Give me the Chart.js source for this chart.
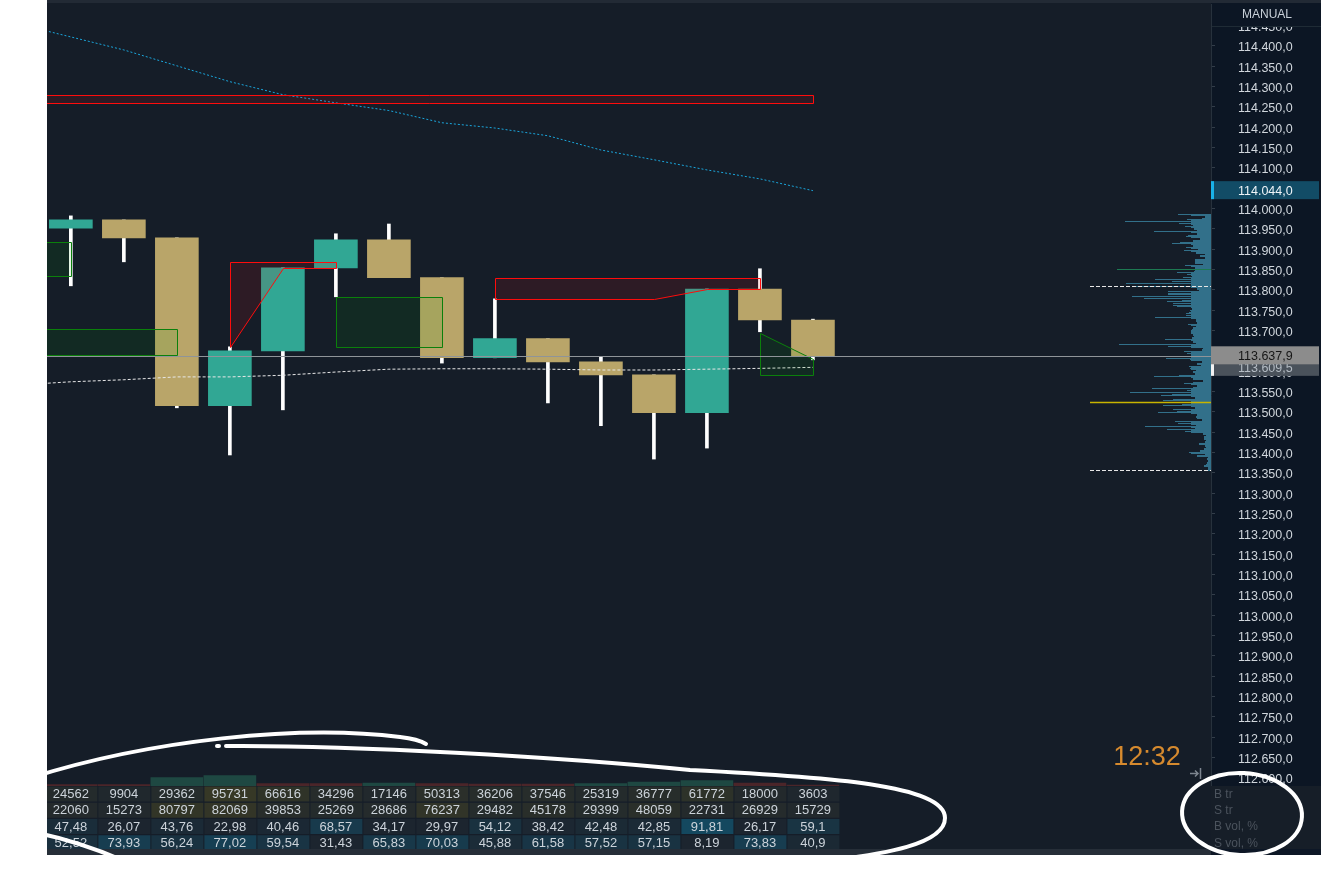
<!DOCTYPE html>
<html>
<head>
<meta charset="utf-8">
<script src="https://cdn.jsdelivr.net/npm/chart.js@4.4.1/dist/chart.umd.min.js"></script>
<style>
html, body { margin: 0; padding: 0; background: #fff; }
#wrap { width: 1321px; height: 890px; }
</style>
</head>
<body>
<div id="wrap"><canvas id="myChart" width="1321" height="890"></canvas></div>
<script>
// candles, one per column (index 0..14)
var opens  = [113952, 113972, 113928, 113515, 113650, 113854, 113923, 113830, 113633, 113680, 113623, 113591, 113498, 113802, 113726];
var highs  = [113982, 113972, 113928, 113660, 113854, 113938, 113962, 113830, 113778, 113680, 113635, 113591, 113802, 113852, 113728];
var lows   = [113810, 113869, 113510, 113394, 113505, 113783, 113830, 113620, 113633, 113522, 113466, 113384, 113411, 113697, 113628];
var closes = [113972, 113928, 113515, 113650, 113854, 113923, 113830, 113633, 113680, 113623, 113591, 113498, 113802, 113726, 113637.9];

// moving lines
var lineIdx   = [-1, 0, 1, 2, 3, 4, 5, 6, 7, 8, 9, 10, 11, 12, 13, 14];
var cyanLine  = [114454, 114422, 114390, 114351, 114312, 114280, 114260, 114241, 114211, 114198, 114179, 114144, 114120, 114095, 114073, 114044];
var whiteLine = [113566, 113574, 113579, 113586, 113586, 113590, 113598, 113605, 113606, 113606, 113605, 113603, 113603, 113605, 113607, 113609.5];

// zones: [candle index, price] vertices
var redZones = [
  [[-1, 114259], [-1, 114280], [14, 114280], [14, 114259]],
  [[3, 113660], [3, 113869], [5, 113869], [5, 113854], [4, 113854]],
  [[8, 113778], [8, 113830], [13, 113830], [13, 113802], [12, 113802], [11, 113778]]
];
var greenZones = [
  [[-1, 113834], [-1, 113918], [0, 113918], [0, 113834]],
  [[-1, 113640], [-1, 113704], [2, 113704], [2, 113640]],
  [[5, 113660], [5, 113783], [7, 113783], [7, 113660]],
  [[13, 113694], [14, 113630], [14, 113591], [13, 113591]]
];

// volume profile, top price down
var profileTop = 113984;
var profileStep = 4.2;
var profileVol = [33, 6, 9, 24, 86, 32, 18, 26, 17, 14, 57, 14, 23, 25, 11, 18, 31, 39, 18, 25,
  13, 27, 15, 6, 11, 6, 16, 16, 16, 8, 26, 16, 16, 17, 34, 24, 19, 28, 56, 39,
  85, 20, 78, 14, 12, 43, 43, 43, 79, 67, 29, 44, 38, 38, 34, 19, 21, 22, 25, 25,
  56, 15, 15, 14, 23, 15, 18, 19, 20, 20, 18, 17, 19, 46, 18, 15, 92, 43, 8, 9,
  27, 24, 20, 34, 45, 21, 9, 14, 10, 22, 21, 15, 18, 16, 32, 57, 18, 8, 18, 27,
  14, 18, 59, 24, 81, 39, 50, 16, 38, 48, 30, 29, 48, 16, 38, 34, 53, 14, 15, 14,
  9, 36, 33, 15, 66, 16, 44, 26, 8, 5, 7, 7, 5, 6, 12, 6, 5, 7, 11, 22,
  6, 14, 3, 4, 3, 4, 5, 7, 3, 3];
var pocPrice = 113524;
var vaHigh = 113809;
var vaLow = 113356;
var hvnPrice = 113851;

var lastPrice = 113637.9;
var cyanLast = 114044;
var whiteLast = 113609.5;

// footer
var deltaBars = [-1.5, -1.5, 8.5, 10.5, -2.5, -2.5, 3, -2.5, -2, -2, 2.5, 4, 5.5, -3, -1];
var bTr  = [24562, 9904, 29362, 95731, 66616, 34296, 17146, 50313, 36206, 37546, 25319, 36777, 61772, 18000, 3603];
var sTr  = [22060, 15273, 80797, 82069, 39853, 25269, 28686, 76237, 29482, 45178, 29399, 48059, 22731, 26929, 15729];
var bVol = [47.48, 26.07, 43.76, 22.98, 40.46, 68.57, 34.17, 29.97, 54.12, 38.42, 42.48, 42.85, 91.81, 26.17, 59.1];
var sVol = [52.52, 73.93, 56.24, 77.02, 59.54, 31.43, 65.83, 70.03, 45.88, 61.58, 57.52, 57.15, 8.19, 73.83, 40.9];
var rowLabels = ["B tr", "S tr", "B vol, %", "S vol, %"];

var teal = "#31a794";
var tan = "#b9a569";
var tickFont = "12.5px 'Liberation Sans', Arial, sans-serif";

function fmtPrice(v) {
  var s = Number(v).toFixed(1).split(".");
  return s[0].replace(/\B(?=(\d{3})+(?!\d))/g, ".") + "," + s[1];
}
function fmtPct(v) {
  return String(v).replace(".", ",");
}
function mix(a, b, t) {
  t = Math.max(0, Math.min(1, t));
  return "rgb(" + a.map(function (v, i) { return Math.round(v + (b[i] - v) * t); }).join(",") + ")";
}

var bodyData = opens.map(function (o, i) { return { x: i, y: [o, closes[i]] }; });
var wickData = opens.map(function (o, i) { return { x: i, y: [lows[i], highs[i]] }; });
var bodyColors = opens.map(function (o, i) { return closes[i] >= o ? teal : tan; });

var backdrop = {
  id: "backdrop",
  beforeDraw: function (chart) {
    var ctx = chart.ctx, a = chart.chartArea;
    ctx.save();
    ctx.fillStyle = "#ffffff";
    ctx.fillRect(0, 0, chart.width, chart.height);
    ctx.fillStyle = "#151d28";
    ctx.fillRect(a.left, 0, chart.width - a.left, 855);
    ctx.fillStyle = "#0c1624";
    ctx.fillRect(a.right, 0, chart.width - a.right, a.bottom);
    ctx.restore();
  }
};

function polygon(chart, pts) {
  var xs = chart.scales.x, ys = chart.scales.y, ctx = chart.ctx;
  ctx.beginPath();
  pts.forEach(function (p, k) {
    var px = Math.round(xs.getPixelForValue(p[0])) + 0.5;
    var py = Math.round(ys.getPixelForValue(p[1])) + 0.5;
    if (k) ctx.lineTo(px, py); else ctx.moveTo(px, py);
  });
  ctx.closePath();
}

var overlays = {
  id: "overlays",
  afterDatasetsDraw: function (chart) {
    var ctx = chart.ctx, a = chart.chartArea, ys = chart.scales.y;
    ctx.save();
    ctx.beginPath();
    ctx.rect(a.left, a.top, a.right - a.left, a.bottom - a.top);
    ctx.clip();
    ctx.lineWidth = 1;
    greenZones.forEach(function (z) {
      polygon(chart, z);
      ctx.fillStyle = "rgba(0,160,0,0.1)";
      ctx.fill();
      ctx.strokeStyle = "#0b800b";
      ctx.stroke();
    });
    redZones.forEach(function (z) {
      polygon(chart, z);
      ctx.fillStyle = "rgba(248,20,22,0.11)";
      ctx.fill();
      ctx.strokeStyle = "#ff0c0c";
      ctx.stroke();
    });

    // volume profile
    var rowH = ys.getPixelForValue(profileTop) - ys.getPixelForValue(profileTop + profileStep);
    ctx.fillStyle = "#32708a";
    profileVol.forEach(function (v, i) {
      var py = ys.getPixelForValue(profileTop - i * profileStep);
      var base = Math.min(v, 20);
      ctx.fillRect(Math.round(a.right - v), Math.round(py - rowH / 2), Math.round(v), 1);
      ctx.fillRect(Math.round(a.right - base), Math.round(py - rowH / 2), Math.round(base), 2);
    });

    function hline(price, x0, color, dash) {
      var py = Math.round(ys.getPixelForValue(price)) + 0.5;
      ctx.beginPath();
      ctx.setLineDash(dash || []);
      ctx.strokeStyle = color;
      ctx.moveTo(x0, py);
      ctx.lineTo(a.right, py);
      ctx.stroke();
      ctx.setLineDash([]);
    }
    hline(hvnPrice, a.right - 94, "#1d7a52");
    hline(vaHigh, a.right - 121, "#e6e6e6", [4, 2]);
    hline(vaLow, a.right - 121, "#e6e6e6", [4, 2]);
    ctx.lineWidth = 1.5;
    hline(pocPrice, a.right - 121, "#c8b400");
    ctx.lineWidth = 1;
    hline(lastPrice, a.left, "#8f9499");
    ctx.restore();
  },
  afterDraw: function (chart) {
    var ctx = chart.ctx, a = chart.chartArea, xs = chart.scales.x, ys = chart.scales.y;
    var W = chart.width;
    ctx.save();

    // price tags on the axis
    function tag(price, bg, fg, barColor) {
      var py = ys.getPixelForValue(price);
      ctx.fillStyle = bg;
      ctx.fillRect(a.right, py - 9.5, W - a.right - 2, 18);
      if (barColor) {
        ctx.fillStyle = barColor;
        ctx.fillRect(a.right, py - 9.5, 3, 18);
      }
      ctx.fillStyle = fg;
      ctx.font = tickFont;
      ctx.textBaseline = "middle";
      ctx.textAlign = "left";
      ctx.fillText(fmtPrice(price), a.right + 27, py + 1);
    }
    tag(cyanLast, "#124c66", "#eef4f8", "#19b2e8");
    tag(whiteLast, "#4a525b", "#b4bcc4", "#f2f2f2");
    tag(lastPrice, "#8c8c8c", "#161616");

    // header
    ctx.fillStyle = "#0c1624";
    ctx.fillRect(a.right + 1, 0, W - a.right - 1, 26);
    ctx.fillStyle = "#222a35";
    ctx.fillRect(a.left, 0, W - a.left, 3);
    ctx.fillStyle = "#1f2b35";
    ctx.fillRect(a.right + 1, 26, W - a.right - 1, 1);
    ctx.fillStyle = "#c9d1d9";
    ctx.font = "12px 'Liberation Sans', Arial, sans-serif";
    ctx.textAlign = "center";
    ctx.textBaseline = "middle";
    ctx.fillText("MANUAL", a.right + 56, 15);

    // timer
    ctx.fillStyle = "#d68a2e";
    ctx.font = "27px 'Liberation Sans', Arial, sans-serif";
    ctx.textAlign = "center";
    ctx.textBaseline = "alphabetic";
    ctx.fillText("12:32", 1147, 765);
    ctx.strokeStyle = "#7d858f";
    ctx.lineWidth = 1.5;
    ctx.beginPath();
    ctx.moveTo(1190, 773.5); ctx.lineTo(1198, 773.5);
    ctx.moveTo(1195, 770.5); ctx.lineTo(1198, 773.5); ctx.lineTo(1195, 776.5);
    ctx.moveTo(1200.5, 768); ctx.lineTo(1200.5, 779);
    ctx.stroke();

    // footer table
    var colW = xs.getPixelForValue(1) - xs.getPixelForValue(0);
    var top = a.bottom;
    ctx.fillStyle = "#151d28";
    ctx.fillRect(a.left, top, a.right - a.left, 63);
    ctx.fillStyle = "#161e28";
    ctx.fillRect(a.right, top, W - a.right, 63);
    var rows = [bTr, sTr, bVol, sVol];
    ctx.save();
    ctx.beginPath();
    ctx.rect(a.left, top, a.right - a.left, 63);
    ctx.clip();
    rows.forEach(function (row, r) {
      var y0 = top + 0.5 + r * 16.25;
      row.forEach(function (v, i) {
        var cx = xs.getPixelForValue(i);
        var bg;
        if (r < 2) bg = mix([30, 38, 46], [54, 56, 38], v / 95731);
        else bg = mix([28, 37, 47], [20, 74, 98], (v - 35) / 60);
        ctx.fillStyle = bg;
        ctx.fillRect(cx - colW / 2 + 1, y0, colW - 1, 15);
        ctx.fillStyle = "#ccd3da";
        ctx.font = "13px 'Liberation Sans', Arial, sans-serif";
        ctx.textAlign = "center";
        ctx.textBaseline = "middle";
        ctx.fillText(r < 2 ? String(v) : fmtPct(v), cx, y0 + 8);
      });
    });
    ctx.restore();
    ctx.fillStyle = "#4b535d";
    ctx.font = "12px 'Liberation Sans', Arial, sans-serif";
    ctx.textAlign = "left";
    ctx.textBaseline = "middle";
    rowLabels.forEach(function (t, r) {
      ctx.fillText(t, a.right + 3, top + 8.5 + r * 16.25);
    });
    ctx.fillStyle = "#262e38";
    ctx.fillRect(a.left, 849, a.right - a.left, 6);
    ctx.fillStyle = "#0d1726";
    ctx.fillRect(a.right, 849, W - a.right, 6);

    // hand-drawn marks on the screenshot
    ctx.strokeStyle = "#ffffff";
    ctx.lineWidth = 4;
    ctx.lineCap = "round";
    ctx.beginPath();
    ctx.moveTo(30, 778);
    ctx.bezierCurveTo(150, 740, 300, 724, 400, 737);
    ctx.quadraticCurveTo(418, 739, 426, 744);
    ctx.stroke();
    ctx.beginPath();
    ctx.moveTo(217, 746); ctx.lineTo(219, 746);
    ctx.stroke();
    ctx.beginPath();
    ctx.moveTo(226, 746);
    ctx.bezierCurveTo(350, 745, 560, 757, 690, 770);
    ctx.bezierCurveTo(830, 777, 945, 785, 945, 818);
    ctx.bezierCurveTo(945, 845, 880, 854, 835, 860);
    ctx.stroke();
    ctx.beginPath();
    ctx.moveTo(38, 833);
    ctx.quadraticCurveTo(80, 842, 122, 860);
    ctx.stroke();
    ctx.beginPath();
    ctx.ellipse(1242, 814, 60, 41, 0.05, 0, Math.PI * 2);
    ctx.stroke();
    ctx.restore();
  }
};

new Chart("myChart", {
  type: "bar",
  data: {
    datasets: [
      {
        type: "line",
        data: lineIdx.map(function (x, i) { return { x: x, y: cyanLine[i] }; }),
        borderColor: "#1aa6dc",
        borderWidth: 1,
        borderDash: [2, 2],
        pointRadius: 0,
        tension: 0,
        fill: false
      },
      {
        type: "line",
        data: lineIdx.map(function (x, i) { return { x: x, y: whiteLine[i] }; }),
        borderColor: "#e8e8e8",
        borderWidth: 1,
        borderDash: [3, 2],
        pointRadius: 0,
        tension: 0,
        fill: false
      },
      {
        data: bodyData,
        backgroundColor: bodyColors,
        borderWidth: 0,
        barThickness: 43,
        grouped: false
      },
      {
        data: wickData,
        backgroundColor: "#ffffff",
        borderWidth: 0,
        barThickness: 3,
        grouped: false
      },
      {
        data: deltaBars.map(function (d, i) { return { x: i, y: Math.abs(d) }; }),
        backgroundColor: deltaBars.map(function (d) { return d >= 0 ? "#1e4842" : "#4b2529"; }),
        borderWidth: 0,
        barThickness: 52,
        grouped: false,
        yAxisID: "yd"
      }
    ]
  },
  options: {
    responsive: false,
    animation: false,
    devicePixelRatio: 1,
    events: [],
    layout: { padding: { left: 47, top: 4, right: 0, bottom: 104 }, autoPadding: false },
    plugins: { legend: { display: false }, tooltip: { enabled: false } },
    scales: {
      x: { type: "linear", min: -0.45, max: 21.51, offset: false, display: false },
      y: {
        position: "right",
        min: 112580,
        max: 114503,
        afterFit: function (s) { s.width = 110; s.paddingTop = 0; s.paddingBottom = 0; },
        ticks: {
          stepSize: 50,
          includeBounds: false,
          autoSkip: false,
          padding: 23,
          labelOffset: 2,
          color: "#d0d6dc",
          font: { family: "'Liberation Sans', Arial, sans-serif", size: 12.5 },
          callback: function (v) { return fmtPrice(v); }
        },
        grid: { drawOnChartArea: false, drawTicks: true, tickLength: 4, color: "#333d49" },
        border: { display: true, color: "#27313c" }
      },
      yd: { display: false, min: 0, max: 782 }
    }
  },
  plugins: [backdrop, overlays]
});
</script>
</body>
</html>
